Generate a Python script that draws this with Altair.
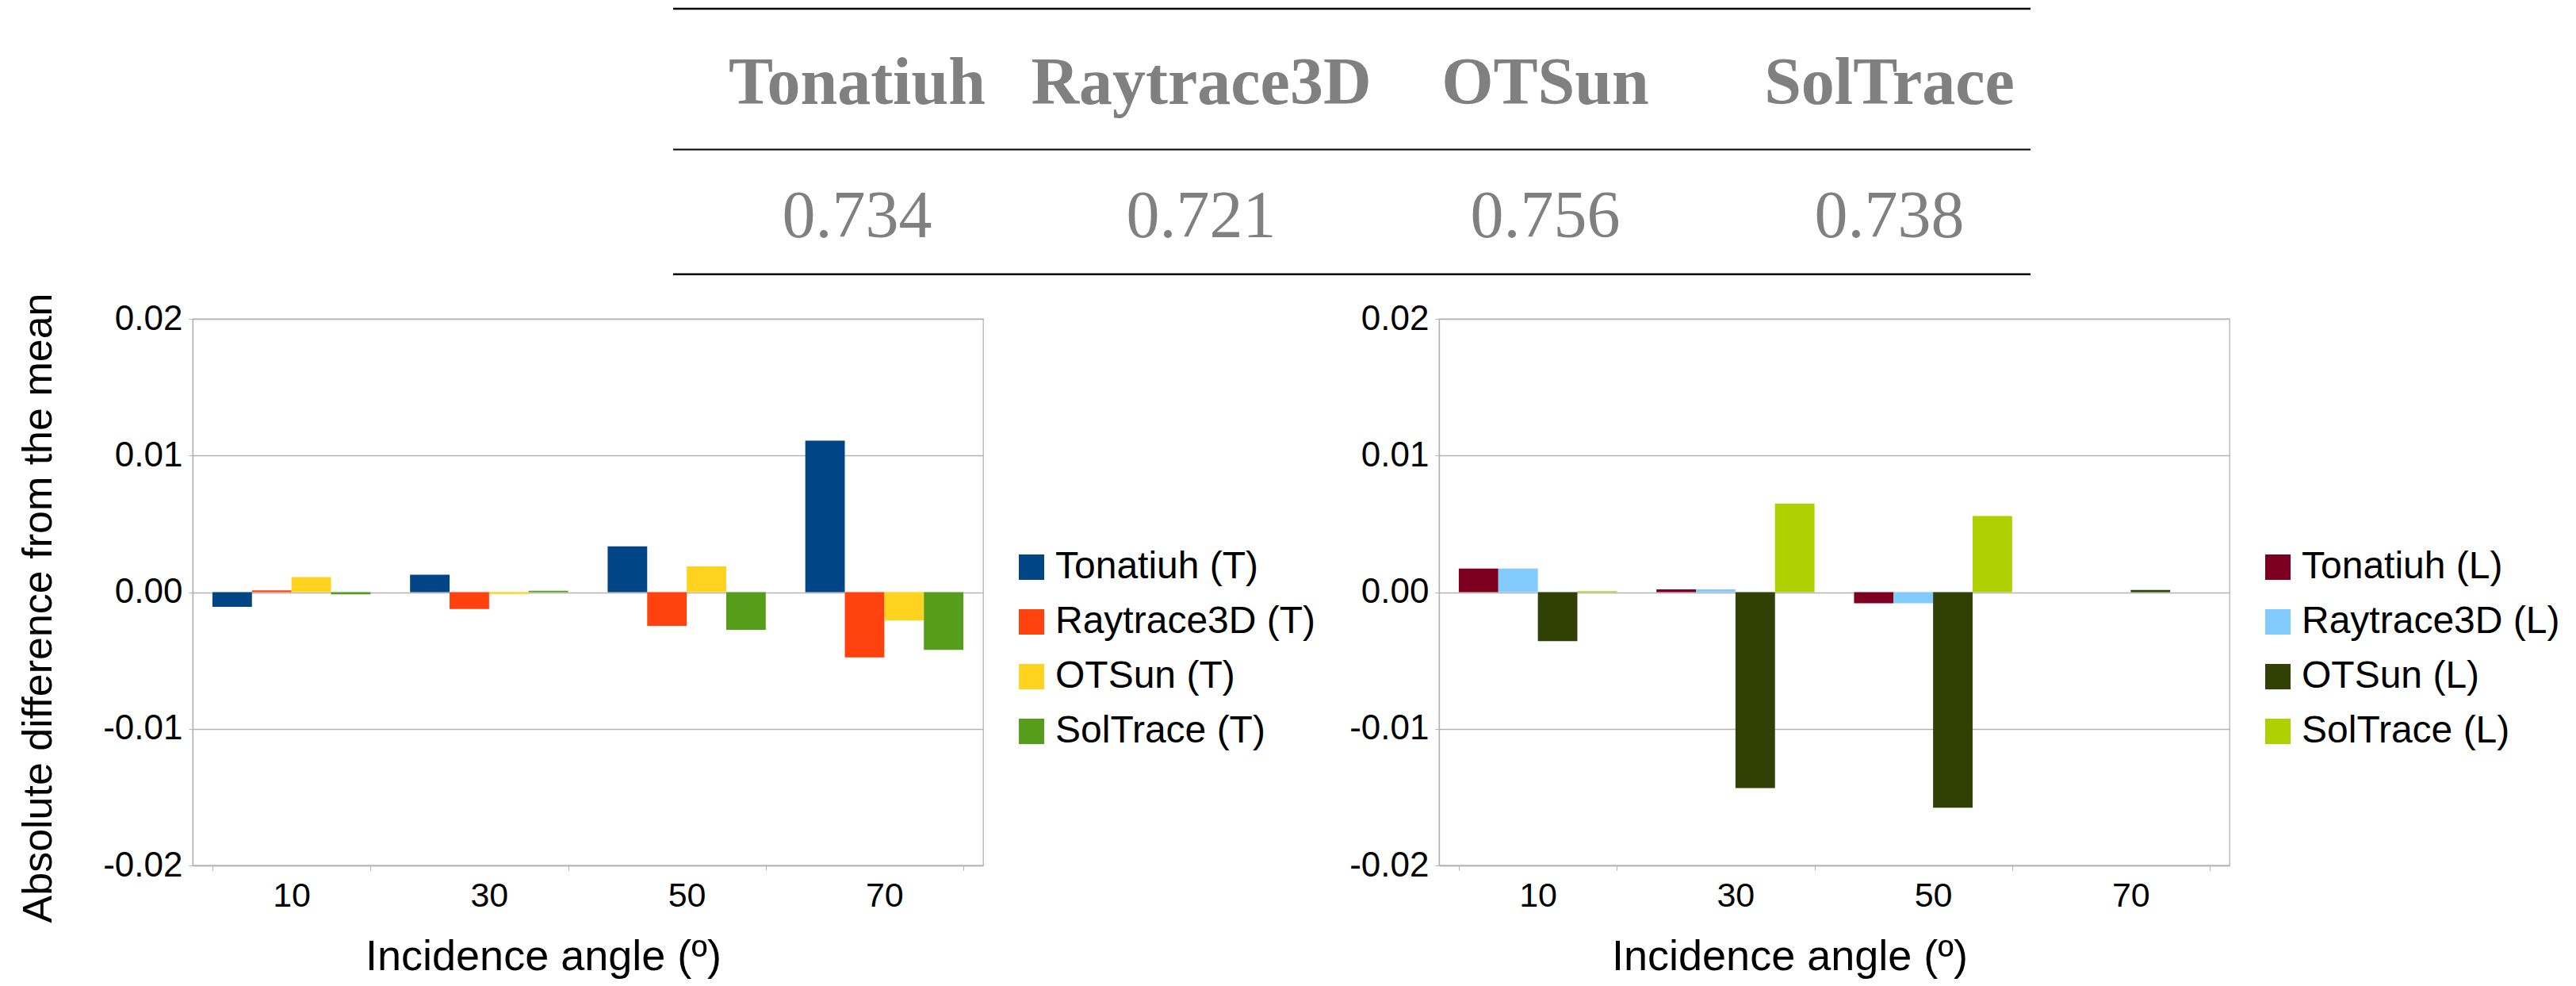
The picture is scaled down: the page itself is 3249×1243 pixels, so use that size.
import altair as alt
import pandas as pd

# ---------------- data ----------------
angles = ["10", "30", "50", "70"]

series_T = ["Tonatiuh (T)", "Raytrace3D (T)", "OTSun (T)", "SolTrace (T)"]
series_L = ["Tonatiuh (L)", "Raytrace3D (L)", "OTSun (L)", "SolTrace (L)"]

# values ordered by incidence angle 10, 30, 50, 70
tonatiuh_T = [-0.00107, 0.00127, 0.00335, 0.01109]
raytrace_T = [0.00013, -0.00124, -0.00247, -0.00478]
otsun_T = [0.00110, -0.00013, 0.00189, -0.00208]
soltrace_T = [-0.00016, 0.00010, -0.00276, -0.00423]

tonatiuh_L = [0.00173, 0.00020, -0.00082, 0.0]
raytrace_L = [0.00173, 0.00020, -0.00082, 0.0]
otsun_L = [-0.00359, -0.01434, -0.01578, 0.00016]
soltrace_L = [0.00007, 0.00649, 0.00557, 0.0]

models = ["Tonatiuh", "Raytrace3D", "OTSun", "SolTrace"]
efficiency = [0.734, 0.721, 0.756, 0.738]

colors_T = ["#004586", "#ff420e", "#ffd320", "#579d1c"]
colors_L = ["#7e0021", "#83caff", "#314004", "#aecf00"]

y_ticks = [-0.02, -0.01, 0.0, 0.01, 0.02]

GRID = "#b3b3b3"
SANS = "Liberation Sans"
SERIF = "Liberation Serif"


def make_df(series, values):
    rows = []
    for s, vals in zip(series, values):
        for a, v in zip(angles, vals):
            rows.append({"angle": a, "series": s, "value": v})
    return pd.DataFrame(rows)


def bar_chart(series, values, colors, y_title):
    df = make_df(series, values)
    y_axis_kw = dict(
        values=y_ticks,
        labelExpr="replace(format(datum.value, '.2f'), '\u2212', '-')",
        tickSize=5,
        tickColor=GRID,
        domainColor=GRID,
        domainWidth=1.3,
        gridColor=GRID,
        gridWidth=1.3,
        labelFontSize=44,
        labelFont=SANS,
        labelColor="black",
        labelPadding=8,
    )
    if y_title:
        y_axis_kw.update(
            title=y_title,
            titleFontSize=52,
            titleFont=SANS,
            titleFontWeight="normal",
            titleColor="black",
            titlePadding=54,
            titleY=364,
        )
    else:
        y_axis_kw.update(title=None)

    x_axis = alt.Axis(
        title="Incidence angle (º)",
        labelAngle=0,
        tickBand="extent",
        tickSize=6,
        tickColor=GRID,
        domainColor=GRID,
        domainWidth=1.3,
        labelFontSize=43,
        labelFont=SANS,
        labelColor="black",
        labelPadding=11,
        titleFontSize=54,
        titleFont=SANS,
        titleFontWeight="normal",
        titleColor="black",
        titleX=442,
        titleY=131,
        titleBaseline="alphabetic",
        titleAlign="center",
    )

    legend = alt.Legend(
        title=None,
        orient="none",
        legendX=1034,
        legendY=289,
        symbolType="square",
        symbolSize=1024,
        symbolStrokeWidth=0,
        labelFontSize=48,
        labelFont=SANS,
        labelColor="black",
        labelOffset=6,
        labelLimit=0,
        rowPadding=21,
        padding=0,
    )

    return (
        alt.Chart(df)
        .mark_bar(strokeWidth=0)
        .encode(
            x=alt.X(
                "angle:N",
                sort=angles,
                scale=alt.Scale(paddingInner=0.2, paddingOuter=0.1),
                axis=x_axis,
            ),
            xOffset=alt.XOffset(
                "series:N",
                sort=series,
                scale=alt.Scale(domain=series, paddingInner=0, paddingOuter=0),
            ),
            y=alt.Y(
                "value:Q",
                scale=alt.Scale(domain=[-0.02, 0.02], nice=False),
                axis=alt.Axis(**y_axis_kw),
            ),
            color=alt.Color(
                "series:N",
                sort=series,
                scale=alt.Scale(domain=series, range=colors),
                legend=legend,
            ),
        )
        .properties(width=997, height=689)
    )


left = bar_chart(series_T, [tonatiuh_T, raytrace_T, otsun_T, soltrace_T], colors_T,
                 "Absolute difference from the mean")
right = bar_chart(series_L, [tonatiuh_L, raytrace_L, otsun_L, soltrace_L], colors_L, None)

# ---------------- table ----------------
tdf = pd.DataFrame({"model": models, "eff": efficiency})
col_x = alt.X(
    "model:N",
    sort=models,
    scale=alt.Scale(type="point", domain=models, range=[838, 2140], padding=0),
    axis=None,
)

rule_base = alt.Chart(pd.DataFrame({"k": [0]}))
top_rule = rule_base.mark_rule(color="black", strokeWidth=2.6).encode(
    x=alt.value(606), x2=alt.value(2318), y=alt.value(0))
mid_rule = rule_base.mark_rule(color="black", strokeWidth=2.0).encode(
    x=alt.value(606), x2=alt.value(2318), y=alt.value(177.5))
bot_rule = rule_base.mark_rule(color="black", strokeWidth=2.6).encode(
    x=alt.value(606), x2=alt.value(2318), y=alt.value(334.7))

header = alt.Chart(tdf).mark_text(
    font=SERIF, fontWeight="bold", fontSize=84, color="#808080", baseline="alphabetic"
).encode(x=col_x, y=alt.value(120.3), text="model:N")

vals = alt.Chart(tdf).mark_text(
    font=SERIF, fontWeight="normal", fontSize=84, color="#808080", baseline="alphabetic"
).encode(x=col_x, y=alt.value(288), text=alt.Text("eff:Q", format=".3f"))

table = alt.layer(top_rule, mid_rule, bot_rule, header, vals).properties(
    width=2320, height=335, view=alt.ViewBackground(stroke="transparent")
)

charts = alt.hconcat(left, right, spacing=575, bounds="flush").resolve_scale(
    color="independent", xOffset="independent")

chart = (
    alt.vconcat(table, charts, spacing=56, bounds="flush")
    .properties(padding={"left": 14, "top": 1, "right": 0, "bottom": 0})
    .configure(font=SANS, background="white")
    .configure_view(stroke=GRID, strokeWidth=1.3)
)

chart.save("out.html", embed_options={"renderer": "svg", "actions": False})
